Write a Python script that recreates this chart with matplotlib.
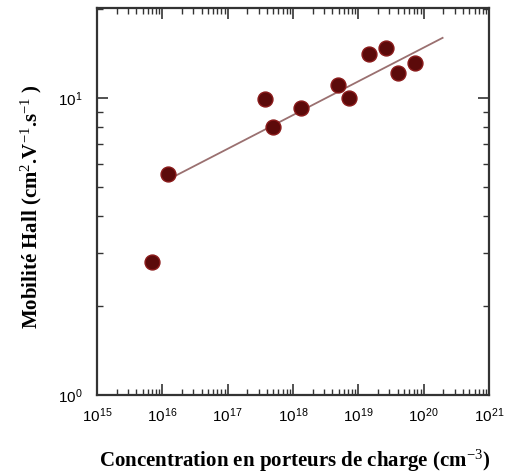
import math

import matplotlib.pyplot as plt
from matplotlib.ticker import FuncFormatter

# carrier concentration (cm^-3) and Hall mobility (cm2/V/s)
concentration = [6.9e15, 1.23e16, 3.8e17, 4.9e17, 1.35e18, 4.9e18, 7.2e18,
                 1.48e19, 2.63e19, 4.0e19, 7.4e19]
mobility = [2.81, 5.55, 9.9, 7.98, 9.23, 11.06, 10.0, 14.1, 14.8, 12.1, 13.15]

# fitted line end points
fit_x = [1.66e16, 1.95e20]
fit_y = [5.5, 15.95]

x_decades = list(range(15, 22))
y_decades = [0, 1]


def sans_power(v, pos):
    return r"$\mathsf{10^{%d}}$" % round(math.log10(v))


def plotgraph():
    fig = plt.figure(figsize=(5.07, 4.72), dpi=100)
    ax = fig.add_axes([0.191, 0.163, 0.7735, 0.820])

    ax.plot(fit_x, fit_y, color="#9a7070", linewidth=1.3, zorder=2)
    ax.scatter(concentration, mobility, s=115, color="#5c0a0a",
               edgecolors="#8a1a1a", linewidths=1.0, zorder=3)

    ax.set_xscale("log")
    ax.set_yscale("log")
    ax.set_xlim(1e15, 1e21)
    ax.set_ylim(1, 20.1)
    ax.set_xticks([10.0 ** k for k in x_decades])
    ax.set_yticks([10.0 ** k for k in y_decades])
    ax.xaxis.set_major_formatter(FuncFormatter(sans_power))
    ax.yaxis.set_major_formatter(FuncFormatter(sans_power))

    ax.tick_params(which="both", direction="in", top=True, right=True,
                   color="#333333")
    ax.tick_params(which="major", length=8, width=1.2, labelsize=11)
    ax.tick_params(axis="x", which="major", pad=8)
    ax.tick_params(axis="y", which="major", pad=10)
    ax.tick_params(which="minor", length=4, width=1.0)
    for sp in ax.spines.values():
        sp.set_linewidth(1.6)
        sp.set_color("#333333")

    ax.set_xlabel("Concentration en porteurs de charge (cm$^{-3}$)",
                  family="Liberation Serif", fontweight="bold", fontsize=15)
    ax.set_ylabel("Mobilité Hall (cm$^{2}$.V$^{-1}$.s$^{-1}$ )",
                  family="Liberation Serif", fontweight="bold", fontsize=15)
    ax.xaxis.set_label_coords(0.505, -0.135)
    ax.yaxis.set_label_coords(-0.135, 0.488)
    fig.savefig("out.png", dpi=100)


def main():
    plt.rcParams["mathtext.fontset"] = "custom"
    plt.rcParams["mathtext.rm"] = "Liberation Serif"
    plt.rcParams["mathtext.it"] = "Liberation Serif:italic"
    plt.rcParams["mathtext.bf"] = "Liberation Serif:bold"
    plt.rcParams["mathtext.sf"] = "Liberation Sans"
    plotgraph()


if __name__ == "__main__":
    main()
